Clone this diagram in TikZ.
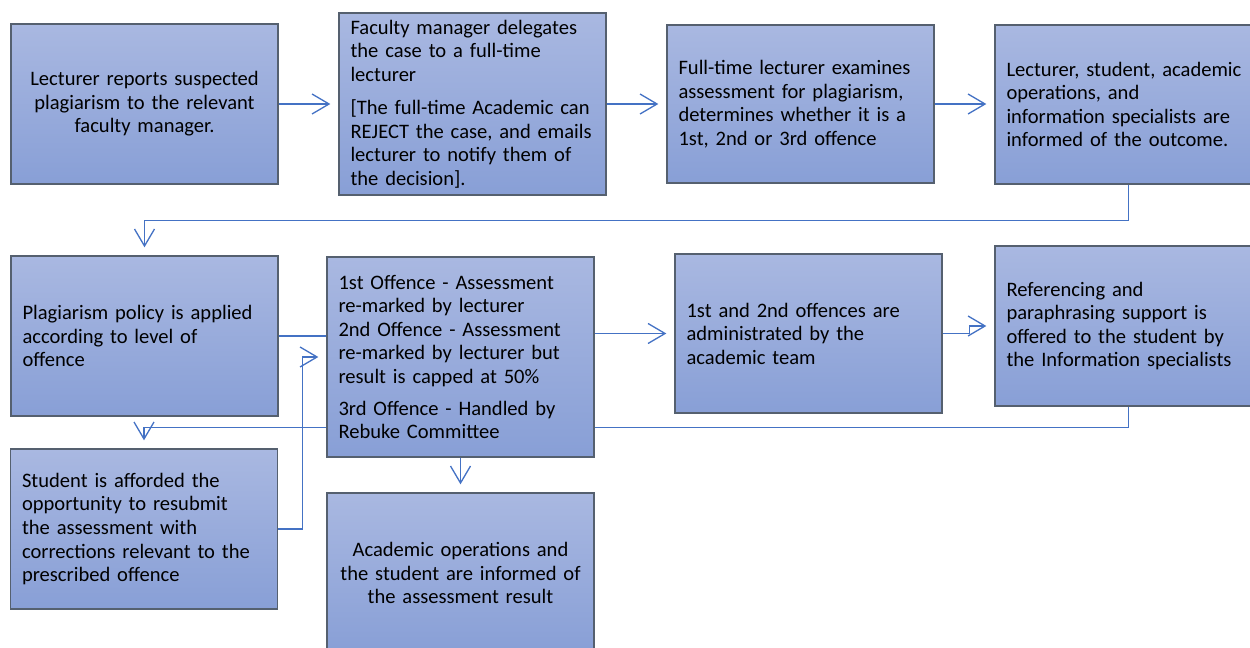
\documentclass[tikz,border=0pt]{standalone}
\usepackage{fontspec}
\setmainfont{Carlito}
\usetikzlibrary{arrows.meta,backgrounds}
\definecolor{boxtop}{HTML}{A9B8E1}
\definecolor{boxbot}{HTML}{889FD6}
\definecolor{boxline}{HTML}{55606F}
\definecolor{linkblue}{HTML}{4472C4}
\tikzset{
  stage/.style={draw=boxline,line width=0.8pt,top color=boxtop,bottom color=boxbot,
    minimum width=5.34cm,minimum height=3.2cm,text width=4.88cm,inner xsep=0.23cm,
    inner ysep=0pt,align=left,font=\fontsize{11.7}{13.4}\selectfont},
  flow/.style={draw=linkblue,line width=0.75pt,-{Straight Barb[length=0.34cm,width=0.4cm]},shorten >=0.16cm},
  link/.style={draw=linkblue,line width=0.75pt}
}
\begin{document}
\begin{tikzpicture}[x=0.02cm,y=-0.02cm]
            \useasboundingbox (0,0) rectangle (1250,648);
            \clip (0,0) rectangle (1250,648);
            \node[stage,align=center] (report) at (144.5,104) {Lecturer reports suspected\\plagiarism to the relevant\\faculty manager.};
            \node[stage,minimum height=3.64cm] (delegate) at (472.5,104) {Faculty manager delegates\\the case to a full-time\\lecturer\\[0.19cm][The full-time Academic can\\REJECT the case, and emails\\lecturer to notify them of\\the decision].};
            \node[stage,minimum height=3.16cm] (examine) at (800.5,104) {Full-time lecturer examines\\assessment for plagiarism,\\determines whether it is a\\1st, 2nd or 3rd offence};
            \node[stage,minimum height=3.18cm] (inform) at (1128.5,104.5) {Lecturer, student, academic\\operations, and\\information specialists are\\informed of the outcome.};
            \node[stage] (policy) at (144.5,336) {Plagiarism policy is applied\\according to level of\\offence};
            \node[stage,minimum height=4cm] (offence) at (460.5,357) {1st Offence - Assessment\\re-marked by lecturer\\2nd Offence - Assessment\\re-marked by lecturer but\\result is capped at 50\%\\[0.17cm]3rd Offence - Handled by\\Rebuke Committee};
            \node[stage,minimum height=3.18cm] (admin) at (808.5,333.5) {1st and 2nd offences are\\administrated by the\\academic team};
            \node[stage] (support) at (1128.5,326) {Referencing and\\paraphrasing support is\\offered to the student by\\the Information specialists};
            \node[stage,minimum width=5.32cm] (resubmit) at (144,529) {Student is afforded the\\opportunity to resubmit\\the assessment with\\corrections relevant to the\\prescribed offence};
            \node[stage,align=center] (result) at (460.5,573) {Academic operations and\\the student are informed of\\the assessment result};
            \draw[flow] (report.east) -- (delegate.west);
            \draw[flow] (delegate.east) -- (examine.west);
            \draw[flow] (examine.east) -- (inform.west |- examine.east);
            \draw[flow] (inform.south) -- ++(0,36) -| (policy.north);
            \draw[link] (policy.east) -- (offence.west |- policy.east);
            \draw[flow] (resubmit.east) -- ++(24,0) |- (offence.west);
            \draw[flow] (offence.east |- admin.west) -- (admin.west);
            \draw[flow] (admin.east) -- ++(27,0) |- (support.west);
            \draw[flow] (offence.south) -- (result.north);
            \begin{pgfonlayer}{background}
            \draw[flow] (support.south) -- ++(0,21) -| (resubmit.north);
            \end{pgfonlayer}
        \end{tikzpicture}
\end{document}
